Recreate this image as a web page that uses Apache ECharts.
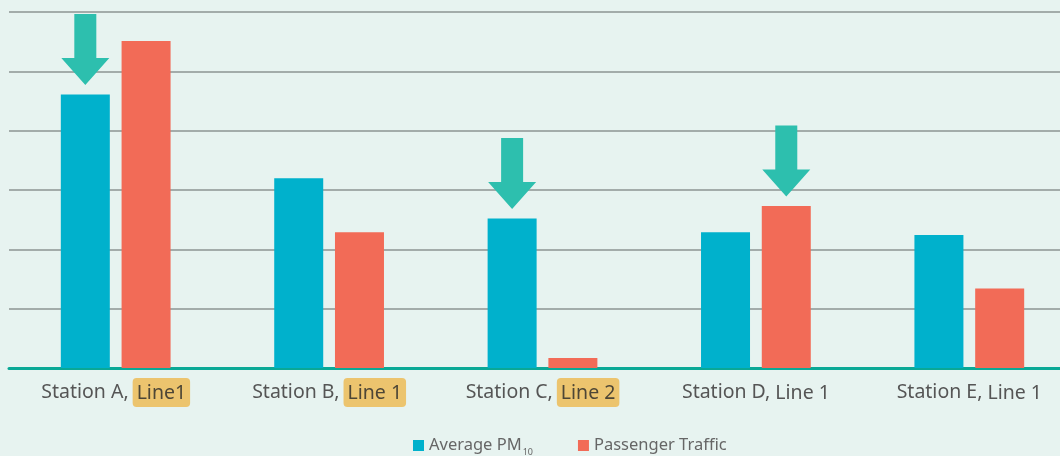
<!DOCTYPE html>
<html>
<head>
<meta charset="utf-8">
<script src="https://cdn.jsdelivr.net/npm/echarts@6/dist/echarts.min.js"></script>
<style>
  html, body { margin: 0; padding: 0; background: #e7f3f0; }
  #chart { width: 1060px; height: 456px; }
</style>
</head>
<body>
<div id="chart"></div>
<script>
// Stations and the line each one sits on
const stations = ['Station A', 'Station B', 'Station C', 'Station D', 'Station E'];
const lines = ['Line1', 'Line 1', 'Line 2', 'Line 1', 'Line 1'];
const lineHighlighted = [true, true, true, false, false];

// Measured values (relative units)
const pm10 = [46.1, 32.0, 25.2, 22.9, 22.4];
const traffic = [55.1, 22.9, 1.7, 27.3, 13.4];

// Bars flagged with a downward arrow: [station index, series]
const flagged = [[0, 'pm10'], [2, 'pm10'], [3, 'traffic']];

const seriesNames = { pm10: 'Average PM10', traffic: 'Passenger Traffic' };
const seriesValues = { pm10: pm10, traffic: traffic };

const arrowPath = 'path://M13,0 L35,0 L35,44 L48,44 L24,71 L0,44 L13,44 Z';
const arrowColor = '#2dbfae';
const font = 'Noto Sans';
const labelSize = 19.5;

function arrowsFor(key) {
  return flagged.filter(f => f[1] === key).map(f => ({
    coord: [stations[f[0]], seriesValues[key][f[0]]]
  }));
}

const chart = echarts.init(document.getElementById('chart'));
chart.setOption({
  backgroundColor: '#e7f3f0',
  animation: false,
  grid: { left: 9, width: 1067, top: 12, bottom: 88, containLabel: false, outerBoundsMode: 'none' },
  legend: {
    left: 413,
    top: 437,
    padding: 0,
    itemWidth: 11,
    itemHeight: 11,
    itemGap: 45,
    icon: 'rect',
    data: [seriesNames.pm10, seriesNames.traffic],
    formatter: name => name === seriesNames.pm10 ? 'Average PM{sub|10}' : name,
    textStyle: {
      fontFamily: font,
      fontSize: 16.5,
      color: '#666666',
      rich: {
        sub: { fontFamily: font, fontSize: 9, color: '#666666', verticalAlign: 'bottom', padding: [14, 0, 0, 1] }
      }
    }
  },
  xAxis: {
    type: 'category',
    data: stations,
    axisTick: { show: false },
    axisLine: { lineStyle: { color: '#0aa896', width: 3 } },
    axisLabel: {
      margin: 10,
      interval: 0,
      fontFamily: font,
      fontSize: labelSize,
      color: '#555555',
      formatter: (value, idx) => lineHighlighted[idx]
        ? value + ',{sp|}{hl|' + lines[idx] + '}'
        : value + ', {pl|' + lines[idx] + '}',
      rich: {
        sp: { width: 4, fontSize: labelSize, fontFamily: font },
        hl: {
          fontFamily: font,
          fontSize: labelSize,
          color: '#4d4636',
          backgroundColor: '#ecc46e',
          borderRadius: 4,
          padding: [5, 4, 4, 4]
        },
        pl: {
          fontFamily: font,
          fontSize: labelSize,
          color: '#555555',
          padding: [5, 0, 4, 0]
        }
      }
    }
  },
  yAxis: {
    type: 'value',
    min: 0,
    max: 60,
    interval: 10,
    axisLabel: { show: false },
    axisLine: { show: false },
    axisTick: { show: false },
    splitLine: { lineStyle: { color: '#8c9593', width: 1.5 } }
  },
  series: [
    {
      name: seriesNames.pm10,
      type: 'bar',
      data: pm10,
      barWidth: 49,
      barGap: '24%',
      itemStyle: { color: '#00b1cc' },
      markPoint: {
        symbol: arrowPath,
        symbolSize: [48, 71],
        symbolOffset: [0, -45],
        itemStyle: { color: arrowColor },
        label: { show: false },
        data: arrowsFor('pm10')
      }
    },
    {
      name: seriesNames.traffic,
      type: 'bar',
      data: traffic,
      barWidth: 49,
      barGap: '24%',
      itemStyle: { color: '#f26b57' },
      markPoint: {
        symbol: arrowPath,
        symbolSize: [48, 71],
        symbolOffset: [0, -45],
        itemStyle: { color: arrowColor },
        label: { show: false },
        data: arrowsFor('traffic')
      }
    }
  ]
});
</script>
</body>
</html>
